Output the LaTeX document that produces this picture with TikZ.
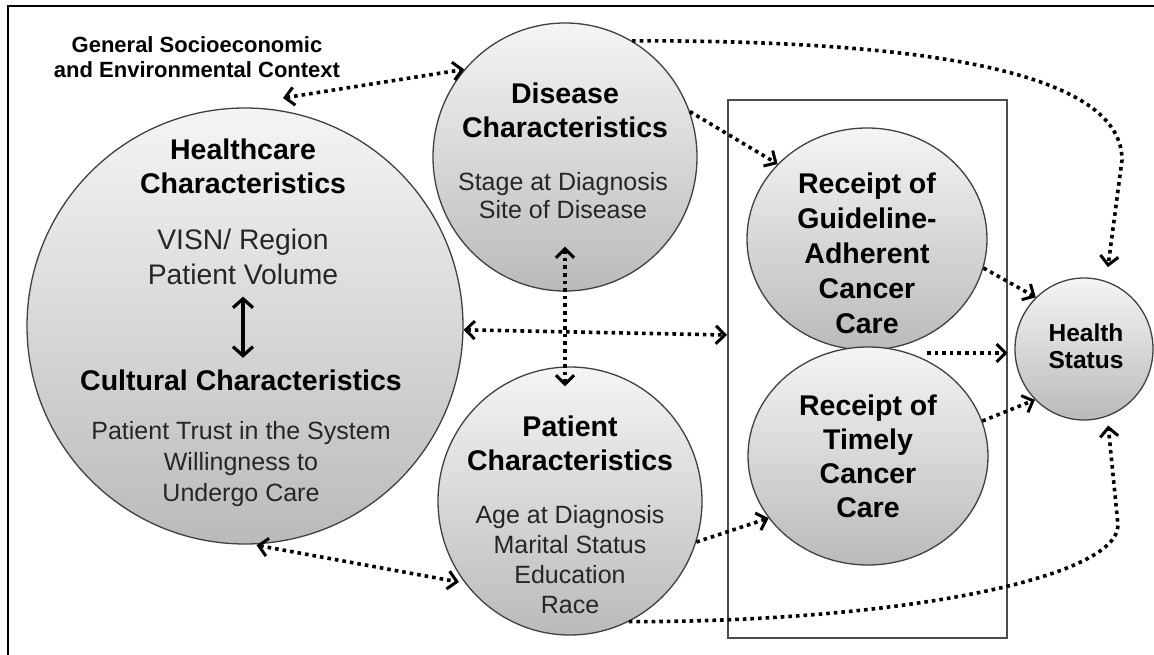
\documentclass[tikz,border=0pt]{standalone}
\usepackage{fontspec}
\setmainfont{Liberation Sans}
\usetikzlibrary{shapes.geometric,arrows.meta}

\tikzset{every picture/.style={line width=0.75pt}}
\tikzset{
  bubble/.style={ellipse, draw=black!75, line width=1.3pt, top color=black!4, bottom color=black!27, inner sep=0pt},
  title/.style={font=\bfseries\fontsize{28.5}{34}\selectfont, align=center},
  body/.style={font=\fontsize{25}{31}\selectfont, align=center, text=black!85},
  dotlink/.style={line width=3.6pt, dash pattern=on 3.6pt off 4pt},
  solidlink/.style={line width=3.2pt, {Straight Barb[length=9pt,width=20pt]}-{Straight Barb[length=9pt,width=20pt]}},
}

\begin{document}
\begin{tikzpicture}[x=1pt,y=1pt,yscale=-1,xscale=1,>={Straight Barb[length=9pt,width=18pt,line width=3pt]}]
\useasboundingbox (0,0) rectangle (1154,655);

%Frame
\draw[line width=2pt] (8,6) rectangle (1170,670);

%Shape: Rectangle
\node[draw=black!70, line width=1.3pt, minimum width=279pt, minimum height=538pt, inner sep=0pt] (box) at (867.5,369) {};

%Shape: Ellipse
\node[bubble, minimum width=436pt, minimum height=436pt] (hc) at (245,326) {};
\node[bubble, minimum width=264pt, minimum height=268pt] (disease) at (565,157) {};
\node[bubble, minimum width=264pt, minimum height=268pt] (patient) at (570,501) {};
\node[bubble, minimum width=240pt, minimum height=222pt] (guide) at (867,239) {};
\node[bubble, minimum width=240pt, minimum height=218pt] (timely) at (868,456) {};
\node[bubble, minimum width=138pt, minimum height=142pt] (health) at (1084,349) {};

% Text Node
\node[title, font=\bfseries\fontsize{22}{25}\selectfont] (ctx) at (197,57) {General Socioeconomic\\and Environmental Context};
% Text Node
\node[title] (hc-title) at (243,166) {Healthcare\\Characteristics};
\node[body, font=\fontsize{28.3}{35}\selectfont] (hc-body) at (243,257) {VISN/ Region\\Patient Volume};
\node[title] (cult-title) at (241,380) {Cultural Characteristics};
\node[body] (cult-body) at (241,464) {Patient Trust in the System\\Willingness to\\Undergo Care};
% Text Node
\node[title] (dis-title) at (565,110) {Disease\\Characteristics};
\node[body, font=\fontsize{25}{28}\selectfont] (dis-body) at (563,196) {Stage at Diagnosis\\Site of Disease};
% Text Node
\node[title] (pat-title) at (570,443) {Patient\\Characteristics};
\node[body, font=\fontsize{25}{30}\selectfont] (pat-body) at (570,560) {Age at Diagnosis\\Marital Status\\Education\\Race};
% Text Node
\node[title, font=\bfseries\fontsize{28.5}{35}\selectfont] (guide-text) at (867,253) {Receipt of\\Guideline-\\Adherent\\Cancer\\Care};
\node[title] (timely-text) at (868,456) {Receipt of\\Timely\\Cancer\\Care};
\node[title, font=\bfseries\fontsize{24.5}{27}\selectfont] (health-text) at (1086,346) {Health\\Status};

%Free ends
\coordinate (ctx-tip) at (283,98);
\coordinate (box-in) at (727,335);
\coordinate (gap) at (927,353);

%Straight Lines
\draw[solidlink, shorten <=8pt, shorten >=8pt] (hc-body.south) -- (hc-body.south |- cult-title.north);
\draw[dotlink, <->] (ctx-tip) -- (disease.139);
\draw[dotlink, ->] (disease.20) -- (guide.140);
\draw[dotlink, <->] (hc.-1) -- (box-in);
\draw[dotlink, <->, shorten <=-45pt, shorten >=-20pt] (disease.south) -- (disease.south |- patient.north);
\draw[dotlink, <->, shorten <=4pt, shorten >=6pt] (hc.-88) -- (patient.218);
\draw[dotlink, ->] (patient.-18) -- (timely.212);
\draw[dotlink, ->] (guide.-14) -- (health.133);
\draw[dotlink, ->] (gap) -- (gap -| box.east);
\draw[dotlink, ->] (timely.17) -- (health.226);

%Curve Lines
\draw[dotlink, ->, shorten >=14pt] (disease.60) .. controls (960,40) and (1122,80) .. (1122,160) -- (health.72);
\draw[dotlink, ->, shorten >=9pt] (patient.-64) .. controls (900,622) and (1118,578) .. (1118,525) -- (health.-71);

\end{tikzpicture}
\end{document}
